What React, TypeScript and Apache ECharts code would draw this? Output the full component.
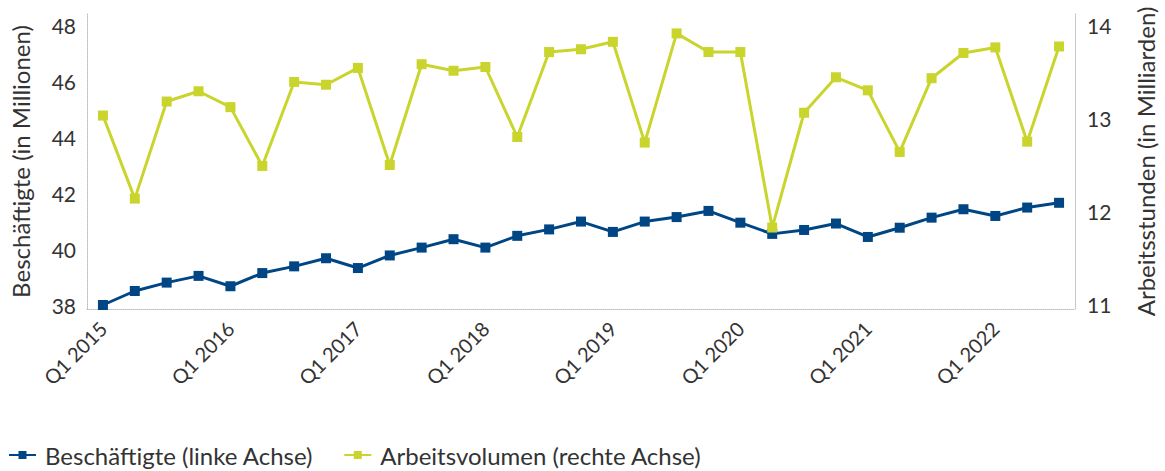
import React, { useEffect, useRef } from "react";
import * as echarts from "echarts";

const categories: string[] = [];
const years = [2015, 2016, 2017, 2018, 2019, 2020, 2021, 2022];
for (const y of years) for (let q = 1; q <= 4; q++) categories.push(`Q${q} ${y}`);
categories.length = 31;

const beschaeftigte = [
  38.0, 38.5, 38.8, 39.04, 38.67, 39.14, 39.38, 39.67, 39.32, 39.77,
  40.05, 40.35, 40.05, 40.47, 40.7, 40.98, 40.61, 40.98, 41.14, 41.36,
  40.94, 40.54, 40.68, 40.91, 40.43, 40.76, 41.12, 41.42, 41.18, 41.48, 41.65,
];

const arbeitsvolumen = [
  13.03, 12.14, 13.18, 13.29, 13.12, 12.49, 13.39, 13.36, 13.54, 12.5,
  13.58, 13.51, 13.55, 12.8, 13.71, 13.74, 13.82, 12.74, 13.91, 13.71,
  13.71, 11.83, 13.06, 13.44, 13.3, 12.64, 13.43, 13.7, 13.76, 12.75, 13.77,
];

const leftTicks = [38, 40, 42, 44, 46, 48];
const rightTicks = [11, 12, 13, 14];

const BLUE = "#004685";
const GREEN = "#c9d52c";
const TEXT = "#333333";
const FONT = "Lato, 'Noto Sans', sans-serif";

export default function App() {
  const ref = useRef<HTMLDivElement>(null);
  useEffect(() => {
    if (!ref.current) return;
    const chart = echarts.init(ref.current, undefined, { renderer: "svg" });
    const axisLine = { show: true, lineStyle: { color: "#bbbbbb", type: "dotted", width: 1 } };
    chart.setOption({
      animation: false,
      textStyle: { fontFamily: FONT, color: TEXT },
      grid: { left: 87, right: 85, top: 14, bottom: 162, containLabel: false },
      legend: {
        left: 3,
        top: 438,
        itemWidth: 27,
        itemHeight: 10,
        itemGap: 30,
        textStyle: { fontFamily: FONT, fontSize: 24, color: TEXT, padding: [0, 0, 0, 4] },
        data: ["Beschäftigte (linke Achse)", "Arbeitsvolumen (rechte Achse)"],
      },
      xAxis: {
        type: "category",
        data: categories,
        boundaryGap: true,
        axisLine,
        axisTick: { show: false },
        axisLabel: {
          interval: 3,
          rotate: 45,
          margin: 16,
          fontSize: 20,
          color: TEXT,
          fontFamily: FONT,
        },
      },
      yAxis: [
        {
          type: "value",
          min: 38 - 4 / 28,
          max: 48 + 11 / 28,
          name: "Beschäftigte (in Millionen)",
          nameLocation: "middle",
          nameGap: 55,
          nameTextStyle: { fontSize: 24, color: TEXT, fontFamily: FONT },
          axisLine,
          axisTick: { show: false },
          splitLine: { show: false },
          axisLabel: {
            customValues: leftTicks,
            fontSize: 21,
            color: TEXT,
            margin: 11,
            fontFamily: FONT,
          },
        },
        {
          type: "value",
          min: 11 - 4 / 93.33,
          max: 14 + 11 / 93.33,
          name: "Arbeitsstunden (in Milliarden)",
          nameLocation: "middle",
          nameGap: 58,
          nameTextStyle: { fontSize: 24, color: TEXT, fontFamily: FONT },
          position: "right",
          axisLine,
          axisTick: { show: false },
          splitLine: { show: false },
          axisLabel: {
            customValues: rightTicks,
            fontSize: 21,
            color: TEXT,
            margin: 12,
            fontFamily: FONT,
          },
        },
      ],
      series: [
        {
          name: "Beschäftigte (linke Achse)",
          type: "line",
          yAxisIndex: 0,
          data: beschaeftigte,
          symbol: "rect",
          symbolSize: 10,
          lineStyle: { color: BLUE, width: 3 },
          itemStyle: { color: BLUE },
          z: 3,
        },
        {
          name: "Arbeitsvolumen (rechte Achse)",
          type: "line",
          yAxisIndex: 1,
          data: arbeitsvolumen,
          symbol: "rect",
          symbolSize: 10,
          lineStyle: { color: GREEN, width: 3 },
          itemStyle: { color: GREEN },
          z: 4,
        },
      ],
    });
    return () => chart.dispose();
  }, []);
  return (
    <div
      ref={ref}
      style={{ position: "absolute", left: 0, top: 0, width: 1165, height: 471 }}
    />
  );
}
